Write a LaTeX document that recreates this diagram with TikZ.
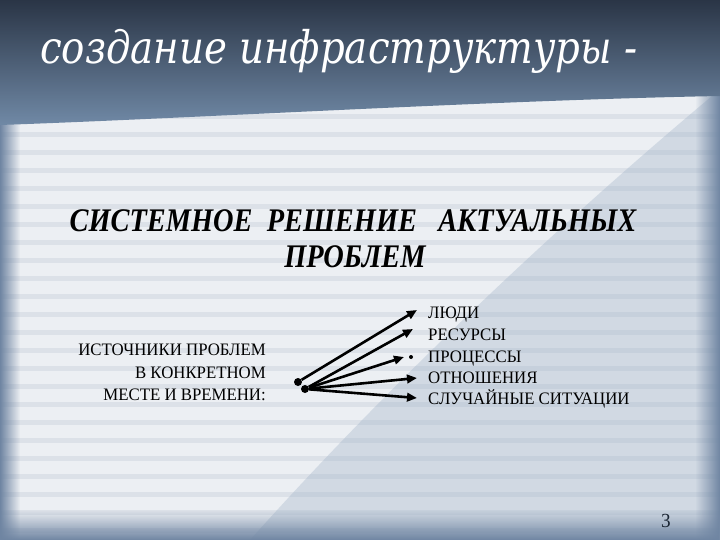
\documentclass[tikz,border=0pt]{standalone}
\usepackage{fontspec}
\setmainfont{Liberation Serif}
\newfontfamily\titlefont[FakeStretch=0.86]{DejaVu Serif}
\newfontfamily\headfont[FakeStretch=0.86]{Liberation Serif}
\newfontfamily\bodyfont[FakeStretch=0.96]{Liberation Serif}
\usetikzlibrary{arrows.meta,positioning,fadings}
\definecolor{bandtop}{HTML}{2A3546}
\definecolor{bandbot}{HTML}{7089A6}
\definecolor{bgpale}{HTML}{ECEFF3}
\definecolor{stripeline}{HTML}{CDD5DF}
\definecolor{foldblue}{HTML}{9FB1C6}
\definecolor{edgeblue}{HTML}{6F85A2}
\definecolor{numcol}{HTML}{1A2533}
\begin{document}
\begin{tikzpicture}[x=1bp,y=-1bp]
        \tikzset{stripe/.style = {fill=stripeline, opacity=0.5}}
        \tikzset{heading/.style = {anchor=base, inner sep=0pt, font=\headfont\bfseries\itshape\fontsize{33bp}{38bp}\selectfont}}
        \tikzset{src/.style = {anchor=base east, inner sep=0pt, font=\bodyfont\fontsize{17.5bp}{20bp}\selectfont}}
        \tikzset{item/.style = {anchor=base west, inner sep=0pt, font=\bodyfont\fontsize{17.5bp}{20bp}\selectfont}}
        \tikzset{dot/.style = {circle, fill=black, inner sep=0pt, minimum size=8bp}}
        \tikzset{ray/.style = {line width=2.6bp, -{Triangle[length=10bp,width=8.5bp]}}}

        \useasboundingbox (0,0) rectangle (720,540);

        % background
        \fill[bgpale] (0,0) rectangle (720,540);
        \foreach \y in {114,132,...,540} {
            \fill[stripe] (0,\y) rectangle (720,\y+5);
        }
        \fill[foldblue, opacity=0.35] (712,96) .. controls (600,190) and (420,350) .. (250,540) -- (720,540) -- (720,96) -- cycle;
        \fill[edgeblue, path fading=east] (0,0) rectangle (20,540);
        \fill[edgeblue, path fading=west] (695,0) rectangle (720,540);
        \fill[edgeblue, path fading=north] (0,510) rectangle (720,540);
        \shade[top color=bandtop, bottom color=bandbot] (0,0) -- (720,0) -- (720,96) .. controls (500,100) and (200,118) .. (0,125) -- cycle;

        % title
        \node[anchor=base west, inner sep=0pt, white, font=\titlefont\itshape\fontsize{45bp}{50bp}\selectfont] (title) at (40,64) {создание инфраструктуры -};

        \node[heading] (head1) at (353,232) {СИСТЕМНОЕ~~РЕШЕНИЕ~~~АКТУАЛЬНЫХ};
        \node[heading] (head2) at (355,268) {ПРОБЛЕМ};

        \node[src] (src1) at (266,355) {ИСТОЧНИКИ ПРОБЛЕМ};
        \node[src] (src2) at (266,378) {В КОНКРЕТНОМ};
        \node[src] (src3) at (266,400) {МЕСТЕ И ВРЕМЕНИ:};

        \node[dot] (d1) at (298,382) {};
        \node[dot] (d2) at (305,389) {};

        \node[item] (people) at (428,318) {ЛЮДИ};
        \node[item] (res) at (428,340) {РЕСУРСЫ};
        \node[item] (proc) at (428,362) {ПРОЦЕССЫ};
        \node[item] (rel) at (428,383) {ОТНОШЕНИЯ};
        \node[item] (rand) at (428,404) {СЛУЧАЙНЫЕ СИТУАЦИИ};

        \coordinate (t1) at (417,310);
        \coordinate (t2) at (413,329);
        \coordinate (t3) at (404,357);
        \coordinate (t4) at (417,378);
        \coordinate (t5) at (417,398);
        \node[circle, fill=black, inner sep=0pt, minimum size=4bp] (b3) at (411,357) {};

        \draw[ray] (d1) -- (t1);
        \draw[ray] (d2) -- (t2);
        \draw[ray] (d2) -- (t3);
        \draw[ray] (d2) -- (t4);
        \draw[ray] (d2) -- (t5);

        \node[anchor=base, inner sep=0pt, numcol, font=\bodyfont\fontsize{20bp}{22bp}\selectfont] (page) at (666,527) {3};

\end{tikzpicture}
\end{document}
